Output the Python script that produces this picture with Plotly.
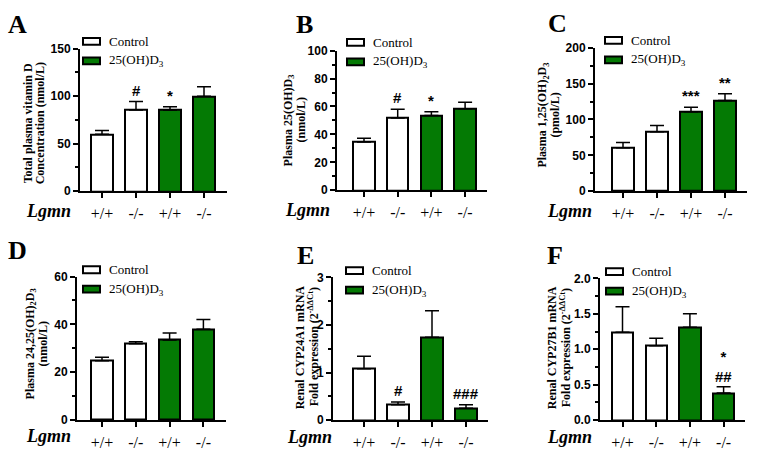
import plotly.graph_objects as go

# ---------------- data ----------------
genotype = ["+/+", "-/-", "+/+", "-/-"]
groups = ["Control", "Control", "25(OH)D3", "25(OH)D3"]

A_mean = [60, 85.5, 85.5, 100]
A_err = [4, 8.8, 3.5, 10]
B_mean = [34.6, 51.8, 53.5, 58.3]
B_err = [2.7, 6.2, 2.7, 4.7]
C_mean = [60.5, 83, 110.6, 126.4]
C_err = [7.5, 8.6, 6.4, 9.6]
D_mean = [24.8, 31.9, 33.5, 37.9]
D_err = [1.4, 0.8, 2.9, 4.1]
E_mean = [1.08, 0.32, 1.74, 0.245]
E_err = [0.26, 0.06, 0.56, 0.075]
F_mean = [1.24, 1.05, 1.31, 0.38]
F_err = [0.36, 0.105, 0.19, 0.09]

A_sig = ["", "#", "*", ""]
B_sig = ["", "#", "*", ""]
C_sig = ["", "", "***", "**"]
D_sig = ["", "", "", ""]
E_sig = ["", "#", "", "###"]
F_sig = ["", "", "", "*<br>##"]

titles = {
    "A": ["Total plasma vitamin D", "Concentration (nmol/L)"],
    "B": ["Plasma 25(OH)D<sub>3</sub>", "(nmol/L)"],
    "C": ["Plasma 1,25(OH)<sub>2</sub>D<sub>3</sub>", "(pmol/L)"],
    "D": ["Plasma 24,25(OH)<sub>2</sub>D<sub>3</sub>", "(nmol/L)"],
    "E": ["Renal CYP24A1 mRNA", "Fold expression (2<sup>-ΔΔCt</sup>)"],
    "F": ["Renal CYP27B1 mRNA", "Fold expression (2<sup>-ΔΔCt</sup>)"],
}

# ---------------- layout config ----------------
W, H = 758, 459
GREEN = "#047a04"
SERIF = "'Liberation Serif', 'Times New Roman', 'DejaVu Serif', serif"
SANS = "'Liberation Sans', Arial, sans-serif"

panels = [
    dict(k="A", mean=A_mean, err=A_err, sig=A_sig, x0=80, x1=227, yt=43, yb=190, ymax=150, dt=50, mn=25,
         lo=22, sp=34, tx=(28, 40), ty=120, let=(17, 18), lg=(83, 35.5), lx=48, ly=210, fmt=""),
    dict(k="B", mean=B_mean, err=B_err, sig=B_sig, x0=337, x1=487, yt=45, yb=189, ymax=100, dt=20, mn=10,
         lo=27, sp=33.7, tx=(289, 301), ty=117, let=(304, 18), lg=(347, 36.5), lx=307, ly=209, fmt=""),
    dict(k="C", mean=C_mean, err=C_err, sig=C_sig, x0=595, x1=747, yt=42, yb=190, ymax=200, dt=50, mn=25,
         lo=28, sp=34, tx=(543, 555), ty=112, let=(557, 17), lg=(605, 34.5), lx=569, ly=210, fmt=""),
    dict(k="D", mean=D_mean, err=D_err, sig=D_sig, x0=77, x1=226, yt=278, yb=426, ymax=60, dt=20, mn=10,
         lo=25, sp=33.8, tx=(31, 43), ty=348, let=(17, 251), lg=(83, 271), lx=48, ly=443, fmt=""),
    dict(k="E", mean=E_mean, err=E_err, sig=E_sig, x0=333, x1=488, yt=279, yb=426, ymax=3, dt=1, mn=0.5,
         lo=31, sp=34, tx=(300, 313), ty=351, let=(305, 256), lg=(346, 272), lx=309, ly=444, fmt=""),
    dict(k="F", mean=F_mean, err=F_err, sig=F_sig, x0=600, x1=745, yt=280, yb=426, ymax=2.0, dt=0.5, mn=0.25,
         lo=22.5, sp=33.7, tx=(552, 565), ty=352, let=(555, 256), lg=(606, 273), lx=569, ly=444, fmt=".1f"),
]

fig = go.Figure()
annotations = []
shapes = []


def px_x(x):
    return x / W


def px_y(y):
    return 1 - y / H


for i, p in enumerate(panels):
    n = "" if i == 0 else str(i + 1)
    xa, ya = "x" + n, "y" + n
    ctrl_idx = [j for j, g in enumerate(groups) if g == "Control"]
    trt_idx = [j for j, g in enumerate(groups) if g != "Control"]
    for idx, color, name in [(ctrl_idx, "white", "Control"), (trt_idx, GREEN, "25(OH)D3")]:
        fig.add_trace(go.Bar(
            x=idx, y=[p["mean"][j] for j in idx], width=0.63,
            marker=dict(color=color, line=dict(color="black", width=2)),
            error_y=dict(type="data", symmetric=False, array=[p["err"][j] for j in idx],
                         arrayminus=[0] * len(idx), color="black", thickness=1.5, width=7),
            xaxis=xa, yaxis=ya, showlegend=False, name=name, hoverinfo="skip",
        ))
    xmin = -p["lo"] / p["sp"]
    xmax = (p["x1"] - p["x0"] - p["lo"]) / p["sp"]
    fig.layout["xaxis" + n] = dict(
        domain=[px_x(p["x0"]), px_x(p["x1"])], anchor=ya, range=[xmin, xmax],
        tickmode="array", tickvals=list(range(len(genotype))), ticktext=genotype,
        ticks="outside", ticklen=5, tickwidth=1.5, tickcolor="black",
        showline=True, linewidth=2, linecolor="black", showgrid=False, zeroline=False,
        tickfont=dict(family=SERIF, size=16, color="black"), ticklabelstandoff=2,
    )
    fig.layout["yaxis" + n] = dict(
        domain=[px_y(p["yb"]), px_y(p["yt"])], anchor=xa, range=[0, p["ymax"]],
        tickmode="linear", tick0=0, dtick=p["dt"], tickformat=p["fmt"],
        ticks="outside", ticklen=5, tickwidth=1.5, tickcolor="black",
        minor=dict(ticks="outside", ticklen=3, tickwidth=1.5, tickcolor="black", dtick=p["mn"], tick0=0),
        showline=True, linewidth=2, linecolor="black", showgrid=False, zeroline=False,
        tickfont=dict(family=SANS, size=12, color="black", weight="bold"),
    )
    # significance marks
    for j, s in enumerate(p["sig"]):
        if s:
            annotations.append(dict(
                x=j, y=p["mean"][j] + p["err"][j], xref=xa, yref=ya, text="<b>" + s + "</b>",
                showarrow=False, yanchor="bottom", yshift=(0 if "<br>" in s else 1),
                font=dict(family=SANS, size=15, color="black")))
    # y title (two lines)
    for line, tx in zip(titles[p["k"]], p["tx"]):
        annotations.append(dict(
            x=px_x(tx), y=px_y(p["ty"]), xref="paper", yref="paper", text="<b>" + line + "</b>",
            textangle=-90, showarrow=False, xanchor="center", yanchor="middle",
            font=dict(family=SERIF, size=12, color="black")))
    # panel letter
    annotations.append(dict(
        x=px_x(p["let"][0]), y=px_y(p["let"][1]), xref="paper", yref="paper", text="<b>" + p["k"] + "</b>",
        showarrow=False, xanchor="center", yanchor="middle",
        font=dict(family=SERIF, size=26, color="black")))
    # Lgmn label
    annotations.append(dict(
        x=px_x(p["lx"]), y=px_y(p["ly"]), xref="paper", yref="paper", text="<b><i>Lgmn</i></b>",
        showarrow=False, xanchor="center", yanchor="middle",
        font=dict(family=SERIF, size=18, color="black")))
    # legend
    bx, by = p["lg"]
    for r, (fill, label) in enumerate([("white", "Control"), (GREEN, "25(OH)D<sub>3</sub>")]):
        cy = by + 20 * r
        shapes.append(dict(type="rect", xref="paper", yref="paper",
                           x0=px_x(bx), x1=px_x(bx + 17), y0=px_y(cy + 3.5), y1=px_y(cy - 3.5),
                           fillcolor=fill, line=dict(color="black", width=2)))
        annotations.append(dict(
            x=px_x(bx + 24), y=px_y(cy), xref="paper", yref="paper", text=label,
            showarrow=False, xanchor="left", yanchor="middle",
            font=dict(family=SERIF, size=13, color="black")))

fig.update_layout(
    width=W, height=H, margin=dict(l=0, r=0, t=0, b=0),
    paper_bgcolor="white", plot_bgcolor="white",
    annotations=annotations, shapes=shapes, showlegend=False, bargap=0,
)

fig.write_html(
    "out.html",
    config={"displayModeBar": False},
    post_script="document.body.style.margin='0';document.body.style.overflow='hidden';",
)
